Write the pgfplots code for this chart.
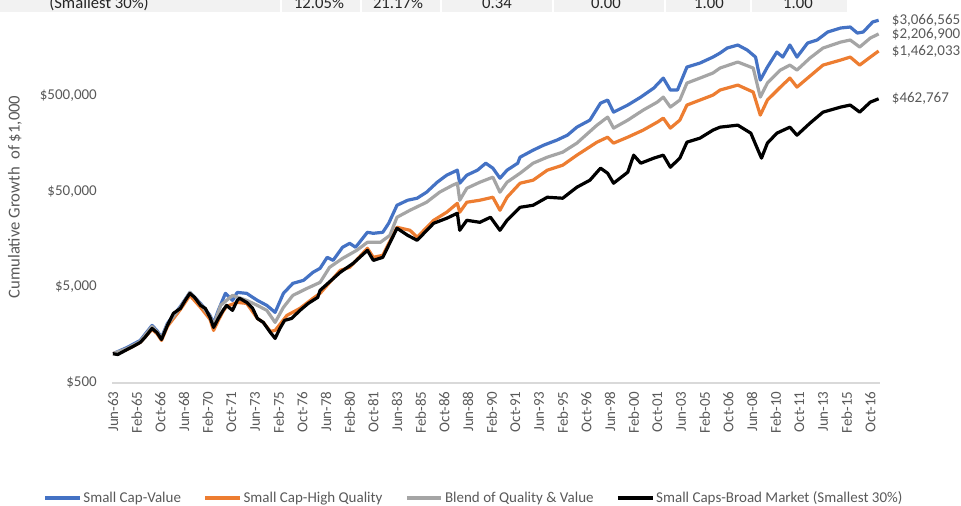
\documentclass[border=0pt]{standalone}
\usepackage{fontspec}
\setmainfont{Carlito}
\usepackage{pgfplots}
\pgfplotsset{compat=1.18}
\definecolor{cblue}{HTML}{4472C4}
\definecolor{corange}{HTML}{ED7D31}
\definecolor{cgray}{HTML}{A5A5A5}
\definecolor{ctext}{HTML}{595959}
\definecolor{caxis}{HTML}{D9D9D9}
\definecolor{cband}{HTML}{F2F2F2}
\newcommand{\tf}{\fontsize{11.25}{13.5}\selectfont}
\begin{document}
\begin{tikzpicture}
\begin{axis}[
  at={(84.3pt,92.625pt)}, anchor=south west,
  width=576pt, height=286.9pt, scale only axis,
  xmin=-0.5, xmax=648.5,
  ymode=log, ymin=500, ymax=5000000,
  axis lines*=left, axis line style={draw=none},
  major tick length=0pt, tick style={draw=none},
  clip=false,
  ytick={500,5000,50000,500000},
  yticklabels={{\$500},{\$5,000},{\$50,000},{\$500,000}},
  yticklabel style={anchor=east, inner sep=0pt, font=\tf, text=ctext},
  yticklabel shift=11.5pt,
  xtick={0,20,...,640},
  xticklabels={Jun-63,Feb-65,Oct-66,Jun-68,Feb-70,Oct-71,Jun-73,Feb-75,Oct-76,Jun-78,Feb-80,Oct-81,Jun-83,Feb-85,Oct-86,Jun-88,Feb-90,Oct-91,Jun-93,Feb-95,Oct-96,Jun-98,Feb-00,Oct-01,Jun-03,Feb-05,Oct-06,Jun-08,Feb-10,Oct-11,Jun-13,Feb-15,Oct-16},
  xticklabel style={rotate=90, anchor=east, inner sep=0pt, font=\tf, text=ctext},
  xticklabel shift=6.5pt,
  legend columns=4,
  legend style={draw=none, fill=none, font=\tf, text=ctext, at={(0.4708,-0.302)}, anchor=center, inner sep=0pt,
    nodes={inner sep=1.5pt}, /tikz/every even column/.append style={column sep=15.5pt}},
  legend image code/.code={\draw[#1, line width=2.4pt] (0pt,0pt) -- (26pt,0pt);},
  every axis plot/.append style={line width=2.4pt, line join=round, no marks},
]
\addplot[cblue] coordinates {
(0,1000) (12,1163) (23,1377) (33,1977) (37,1752) (41,1479) (46,2075) (57,3125) (65,4375) (74,3357)
(82,2515) (85,2075) (89,2838) (95,4275) (101,3610) (105,4375) (113,4275) (122,3610) (130,3200) (137,2705)
(144,4275) (152,5440) (161,5850) (169,7095) (175,7815) (181,10180) (186,9460) (194,12970) (200,14260) (205,12970)
(215,18610) (220,18150) (228,18610) (233,23120) (240,35660) (249,40250) (257,42250) (265,48860) (274,62100) (282,73600)
(291,83000) (293,60660) (299,73600) (308,83000) (315,98150) (321,87100) (327,68400) (333,83000) (342,98150) (344,113500)
(355,134300) (364,151700) (375,171000) (384,192700) (392,233900) (403,276800) (412,416900) (418,448800) (423,335700) (435,398100)
(446,482000) (457,599500) (465,762000) (471,571500) (477,571500) (485,993500) (496,1094000) (507,1264000) (513,1393000) (519,1571000)
(528,1690000) (536,1496000) (543,1264000) (547,726000) (553,993500) (561,1426000) (566,1264000) (572,1690000) (578,1264000) (587,1774000)
(595,1906000) (604,2312000) (615,2546000) (623,2606000) (629,2254000) (634,2312000) (642,2944000) (647,3066565)
};
\addlegendentry{Small Cap-Value}
\addplot[corange] coordinates {
(0,1000) (12,1108) (23,1312) (33,1795) (37,1630) (41,1377) (46,1928) (57,2905) (65,4073) (74,3049)
(82,2285) (85,1752) (89,2229) (93,2770) (96,3125) (105,3440) (113,3357) (122,2339) (127,2125) (133,1710)
(137,1752) (147,2515) (158,2979) (169,3790) (175,4275) (192,7445) (200,8000) (215,12650) (220,10180) (228,10690)
(240,20990) (251,19520) (257,16490) (271,24830) (282,30150) (291,37400) (293,30150) (299,38350) (310,40250) (321,43250)
(327,31620) (333,43250) (344,60660) (355,65200) (367,83000) (380,93500) (392,119100) (409,162900) (418,183700) (423,159200)
(435,183700) (448,217700) (460,264000) (465,290400) (471,228500) (479,276800) (485,398100) (496,448800) (507,506000) (513,571500)
(528,644000) (541,544500) (547,312600) (553,448800) (564,613500) (572,762000) (578,613500) (589,800000) (600,1042000) (615,1177000)
(623,1264000) (631,1042000) (640,1264000) (647,1462033)
};
\addlegendentry{Small Cap-High Quality}
\addplot[cgray] coordinates {
(0,1000) (12,1135) (23,1343) (33,1928) (37,1710) (41,1445) (46,2025) (57,3049) (65,4375) (74,3280)
(82,2455) (85,1977) (91,3200) (101,4073) (113,3610) (122,3200) (130,2838) (137,2125) (144,3049) (152,4073)
(164,4820) (175,5570) (183,8000) (194,9930) (206,12050) (215,14620) (226,14620) (234,17300) (240,26720) (251,31620)
(265,38350) (276,48860) (287,57800) (291,60660) (293,40250) (299,53700) (310,62100) (321,70150) (327,48860) (333,62100)
(344,77150) (355,98150) (367,113500) (380,128000) (392,159200) (409,245400) (418,297800) (423,228500) (435,276800) (448,352400)
(460,427600) (465,482000) (471,379300) (479,448800) (485,676000) (496,762000) (507,861000) (513,970500) (528,1122000) (541,970500)
(547,482000) (553,676000) (564,924500) (572,1042000) (578,924500) (589,1236000) (600,1571000) (615,1815000) (623,1906000) (631,1610000)
(640,2000000) (647,2206900)
};
\addlegendentry{Blend of Quality \& Value}
\addplot[black] coordinates {
(0,1000) (4,980) (12,1108) (17,1191) (23,1312) (27,1479) (33,1837) (37,1670) (41,1409) (46,1977)
(51,2640) (57,2979) (61,3610) (65,4275) (69,3881) (74,3200) (78,2979) (82,2398) (85,1884) (89,2339)
(93,2838) (96,3200) (101,2838) (105,3610) (107,3790) (113,3440) (118,2979) (122,2339) (127,2125) (133,1670)
(137,1445) (141,1837) (145,2229) (151,2339) (158,2838) (165,3357) (173,3881) (175,4596) (192,7095) (203,8810)
(215,12050) (220,9460) (228,10180) (240,20500) (249,17300) (257,15340) (271,23120) (282,26060) (291,29430) (293,19520)
(299,24830) (310,23660) (319,26720) (327,19520) (333,24830) (344,33960) (355,35660) (367,43250) (380,42250) (392,55060)
(403,65200) (412,87100) (418,77150) (423,60660) (435,79050) (440,119100) (446,98150) (457,110900) (465,119100) (471,89150)
(479,110900) (485,162900) (496,179400) (507,217700) (513,233900) (528,245400) (539,202300) (544,144500) (548,110900) (553,159200)
(561,202300) (572,233900) (578,192700) (589,257600) (600,335700) (615,379300) (623,398100) (631,335700) (640,427600) (647,462767)
};
\addlegendentry{Small Caps-Broad Market (Smallest 30\%)}
\node[anchor=west, inner sep=0pt, font=\tf, text=ctext] at (axis cs:658,3066565) {\$3,066,565};
\node[anchor=west, inner sep=0pt, font=\tf, text=ctext] at (axis cs:658,2206900) {\$2,206,900};
\node[anchor=west, inner sep=0pt, font=\tf, text=ctext] at (axis cs:658,1462033) {\$1,462,033};
\node[anchor=west, inner sep=0pt, font=\tf, text=ctext] at (axis cs:658,462767) {\$462,767};
\end{axis}
\begin{scope}[x=0.75pt, y=-0.75pt, yshift=379.5pt]
  \draw[caxis, line width=1pt] (112.4,383) -- (880.4,383);
  \node[rotate=90, font=\fontsize{12.5}{15}\selectfont, text=ctext] at (15,197) {Cumulative Growth\ \ of \$1,000};
  \fill[cband] (0,-6) rectangle (847,12);
  \foreach \xx in {281,361,441,553,665,751} { \draw[white, line width=1.5pt] (\xx,-6) -- (\xx,12); }
  \begin{scope}[every node/.style={font=\fontsize{12.5}{15}\selectfont, text=black!85, inner sep=0pt}]
    \node[anchor=base west] at (49,8.5) {(Smallest 30\%)};
    \node[anchor=base] at (319,8.5) {12.05\%};
    \node[anchor=base] at (398,8.5) {21.17\%};
    \node[anchor=base] at (497,8.5) {0.34};
    \node[anchor=base] at (606,8.5) {0.00};
    \node[anchor=base] at (709,8.5) {1.00};
    \node[anchor=base] at (798,8.5) {1.00};
  \end{scope}
\end{scope}
\pgfresetboundingbox
\path (0pt,0pt) rectangle (720.75pt,379.5pt);
\end{tikzpicture}
\end{document}
